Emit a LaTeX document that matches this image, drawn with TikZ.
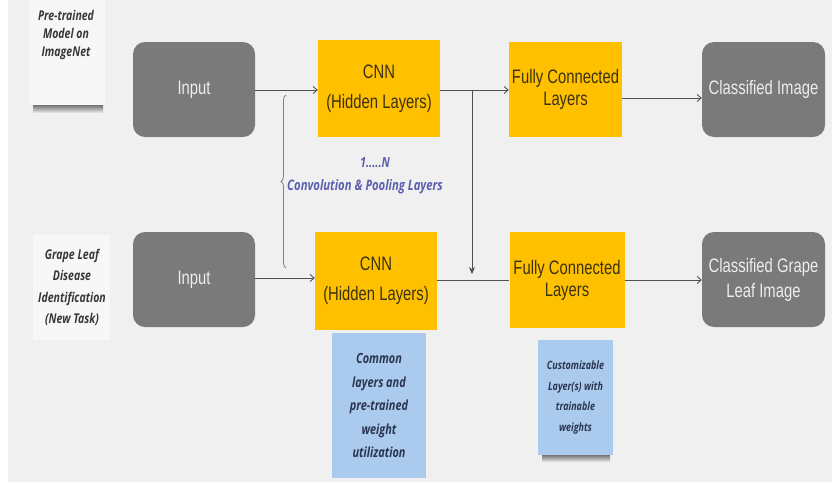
\documentclass[tikz,border=0pt]{standalone}
\usepackage{fontspec}
\setmainfont{Liberation Sans}
\newfontfamily\boxfont[FakeStretch=0.76]{Liberation Sans}
\newfontfamily\notefont[FakeStretch=0.78]{Open Sans}
\usetikzlibrary{arrows.meta,decorations.pathreplacing}
\definecolor{bggray}{HTML}{F0F0F0}
\definecolor{boxgray}{HTML}{7A7A7A}
\definecolor{ylw}{HTML}{FFC000}
\definecolor{ylwtext}{HTML}{3A3210}
\definecolor{linegray}{HTML}{505050}
\definecolor{notetext}{HTML}{383838}
\definecolor{bluenote}{HTML}{AACBEE}
\definecolor{bluetext}{HTML}{2B3550}
\definecolor{convtext}{HTML}{5B5FB0}
\tikzset{
  graybox/.style={fill=boxgray, rounded corners=12pt, text=white!93!black, align=center, font=\boxfont\fontsize{19.5}{25}\selectfont, inner sep=0pt},
  ylwbox/.style={fill=ylw, text=ylwtext, align=center, font=\boxfont\fontsize{19.5}{24}\selectfont, inner sep=0pt},
  card/.style={fill=white!97!black, inner sep=0pt},
  cardtext/.style={text=notetext, align=center, font=\notefont\bfseries\itshape\fontsize{13.5}{18}\selectfont},
  bnote/.style={fill=bluenote, text=bluetext, align=center, inner sep=0pt},
  conn/.style={draw=linegray, line width=0.9pt, -{Straight Barb[length=4pt,width=7pt]}},
  shadowtop/.style={top color=black!60, bottom color=bggray, middle color=black!35},
}
\begin{document}
\begin{tikzpicture}[x=1pt,y=-1pt]
\useasboundingbox (0,0) rectangle (832,482);
\fill[white] (0,0) rectangle (832,482);
\fill[bggray] (8,0) rectangle (832,482);

% side cards
\shade[shadowtop] (33,104) rectangle (103,113);
\node[card, minimum width=75pt, minimum height=108pt] (c1) at (67.5,51) {};
\node[cardtext] (t1) at (66,35) {Pre-trained\\Model on\\ImageNet};
\node[card, minimum width=77pt, minimum height=105pt] (c2) at (71.5,287) {};
\node[cardtext, font=\notefont\bfseries\itshape\fontsize{13.5}{21.5}\selectfont] (t2) at (72,287.5) {Grape Leaf\\Disease\\Identification\\(New Task)};

% main boxes
\node[graybox, minimum width=122pt, minimum height=95pt] (in1) at (194,89.5) {Input};
\node[graybox, minimum width=122pt, minimum height=95pt] (in2) at (194,279.5) {Input};
\node[ylwbox, minimum width=122pt, minimum height=97pt] (cnn1) at (379,88.5) {CNN\\[6pt](Hidden Layers)};
\node[ylwbox, minimum width=122pt, minimum height=98pt] (cnn2) at (376,281) {CNN\\[6pt](Hidden Layers)};
\node[ylwbox, minimum width=113pt, minimum height=95pt] (fc1) at (565.5,89.5) {Fully Connected\\[-2pt]Layers};
\node[ylwbox, minimum width=115pt, minimum height=96pt] (fc2) at (567,280) {Fully Connected\\[-2pt]Layers};
\node[graybox, minimum width=123pt, minimum height=95pt] (cl1) at (763.5,89.5) {Classified Image};
\node[graybox, minimum width=123pt, minimum height=95pt] (cl2) at (763.5,279.5) {Classified Grape\\Leaf Image};

% connectors
\draw[conn] (in1.east |- 0,90) -- (cnn1.west |- 0,90);
\draw[conn] (cnn1.east |- 0,90) -- (fc1.west |- 0,90);
\draw[conn] (fc1.east |- 0,98) -- (cl1.west |- 0,98);
\draw[conn] (in2.east |- 0,278) -- (cnn2.west |- 0,278);
\draw[draw=linegray, line width=0.9pt] (cnn2.east |- 0,280) -- (fc2.west |- 0,280);
\draw[conn] (fc2.east |- 0,280) -- (cl2.west |- 0,280);
\coordinate (j1) at (472,90);
\coordinate (j2) at (472,274);
\draw[draw=linegray, line width=0.9pt, -{Stealth[length=7pt,width=6pt]}] (j1) -- (j2);

% brace
\coordinate (b1) at (286,268);
\coordinate (b2) at (286,95);
\draw[draw=gray, line width=0.8pt, decorate, decoration={brace, amplitude=5pt}] (b1) -- (b2);

\node[text=convtext, font=\notefont\bfseries\itshape\fontsize{14}{16}\selectfont] (n1) at (375,163) {1.....N};
\node[text=convtext, font=\notefont\bfseries\itshape\fontsize{14.5}{16}\selectfont] (n2) at (365,187) {Convolution \& Pooling Layers};

% blue notes
\node[bnote, minimum width=94pt, minimum height=145pt, font=\notefont\bfseries\itshape\fontsize{14}{23.5}\selectfont] (bn1) at (379,405.5) {Common\\layers and\\pre-trained\\weight\\utilization};
\shade[shadowtop] (542,454) rectangle (610,462);
\node[bnote, minimum width=75pt, minimum height=115pt, font=\notefont\bfseries\itshape\fontsize{11.5}{20.5}\selectfont] (bn2) at (575.5,397.5) {Customizable\\Layer(s) with\\trainable\\weights};
\end{tikzpicture}
\end{document}
